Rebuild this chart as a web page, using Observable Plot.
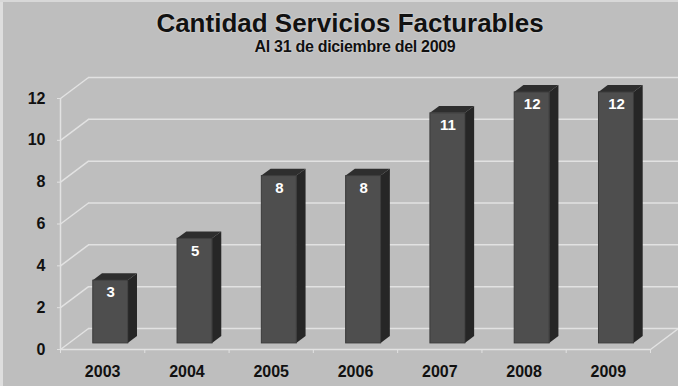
<!DOCTYPE html>
<html>
<head>
<meta charset="utf-8">
<script src="https://cdn.jsdelivr.net/npm/d3@7"></script>
<script src="https://cdn.jsdelivr.net/npm/@observablehq/plot@0.6"></script>
<style>
  html, body { margin: 0; padding: 0; background: #bebebe; }
  #wrap { position: relative; width: 678px; height: 386px; background: #bebebe; overflow: hidden; font-family: "Liberation Sans", Arial, sans-serif; }
  #wrap svg { position: absolute; left: 0; top: 0; }
  .title { position: absolute; left: 0; width: 700px; text-align: center; font-weight: bold; color: #111; white-space: nowrap; text-shadow: 0 0 2px #e6e6e6; }
  #t1 { top: 10px; font-size: 26px; line-height: 26px; }
  #t2 { top: 39px; left: 0; width: 710px; font-size: 16px; line-height: 16px; letter-spacing: -0.3px; }
  #edgeL { position: absolute; left: 0; top: 0; width: 3px; height: 386px; background: #dedede; }
  #edgeT { position: absolute; left: 0; top: 0; width: 678px; height: 2px; background: #d8d8d8; }
</style>
</head>
<body>
<div id="wrap">
  <div id="t1" class="title">Cantidad Servicios Facturables</div>
  <div id="t2" class="title">Al 31 de diciembre del 2009</div>
  <div id="edgeL"></div>
  <div id="edgeT"></div>
</div>
<script>
const years = ["2003", "2004", "2005", "2006", "2007", "2008", "2009"];
const values = [3, 5, 8, 8, 11, 12, 12];
const yTicks = [0, 2, 4, 6, 8, 10, 12];

const W = 678, H = 386, mL = 60, mR = 28, mT = 98, mB = 37;
const n = years.length;
const yMax = 12;
// 3D depth of the floor/back wall, converted from pixels to data units
const BX = 28 * n / (W - mL - mR);
const BY = 21 * yMax / (H - mT - mB);
const F = 0.29;   // bar front position along depth
const D = 0.33;   // bar depth
const BW = 0.415; // bar width (in category units)

const bars = years.map((year, i) => ({year, value: values[i], i}));
const leftX = d => d.i + 0.5 - BW / 2 + F * BX;
const rightX = d => d.i + 0.5 + BW / 2 + F * BX;

const sideFace = bars.flatMap(d => [
  {i: d.i, x: rightX(d), y1: F * BY, y2: d.value + F * BY},
  {i: d.i, x: rightX(d) + D * BX, y1: (F + D) * BY, y2: d.value + (F + D) * BY}
]);
const topFace = bars.flatMap(d => [
  {i: d.i, y: d.value + F * BY, x1: leftX(d), x2: rightX(d)},
  {i: d.i, y: d.value + (F + D) * BY, x1: leftX(d) + D * BX, x2: rightX(d) + D * BX}
]);

const grid = "#e2e2e2";
const font = "Liberation Sans, Arial, sans-serif";

const chart = Plot.plot({
  width: W,
  height: H,
  marginLeft: mL,
  marginRight: mR,
  marginTop: mT,
  marginBottom: mB,
  style: {background: "transparent", fontFamily: font, color: "#111", overflow: "visible"},
  x: {domain: [0, n], axis: null},
  y: {domain: [0, yMax], axis: null},
  marks: [
    Plot.ruleY(yTicks, {y: d => d + BY, x1: () => BX, x2: () => n + BX, stroke: grid, strokeWidth: 1.5}),
    Plot.link(yTicks, {x1: () => 0, y1: d => d, x2: () => BX, y2: d => d + BY, stroke: grid, strokeWidth: 1.5}),
    Plot.link([0], {x1: () => n, y1: () => 0, x2: () => n + BX, y2: () => BY, stroke: grid, strokeWidth: 1.5}),
    Plot.ruleY([0], {x1: () => 0, x2: () => n, stroke: grid, strokeWidth: 1.5}),
    Plot.ruleX([0], {y1: () => 0, y2: () => yMax, stroke: grid, strokeWidth: 1.5}),
    Plot.axisY({ticks: yTicks, tickSize: 3, tickPadding: 12, stroke: grid, fill: "#111",
      fontWeight: "bold", fontSize: 16, label: null}),
    Plot.axisX({ticks: d3.range(n + 1), tickSize: 4, tickFormat: () => "", stroke: grid, label: null}),
    Plot.axisX({ticks: d3.range(n).map(i => i + 0.5), tickSize: 0, tickPadding: 16,
      tickFormat: v => years[Math.floor(v)], fill: "#111", fontWeight: "bold", fontSize: 16, label: null}),
    Plot.areaY(sideFace, {x: "x", y1: "y1", y2: "y2", z: "i", fill: "#262626"}),
    Plot.areaX(topFace, {y: "y", x1: "x1", x2: "x2", z: "i", fill: "#2e2e2e"}),
    Plot.rect(bars, {x1: leftX, x2: rightX, y1: () => F * BY, y2: d => d.value + F * BY,
      fill: "#4e4e4e", stroke: "#3a3a3a", strokeWidth: 1}),
    Plot.text(bars, {x: d => d.i + 0.5 + F * BX, y: d => d.value + F * BY, dy: 12,
      text: d => String(d.value), fill: "white", fontWeight: "bold", fontSize: 15})
  ]
});
document.getElementById("wrap").insertBefore(chart, document.getElementById("t1"));
</script>
</body>
</html>
